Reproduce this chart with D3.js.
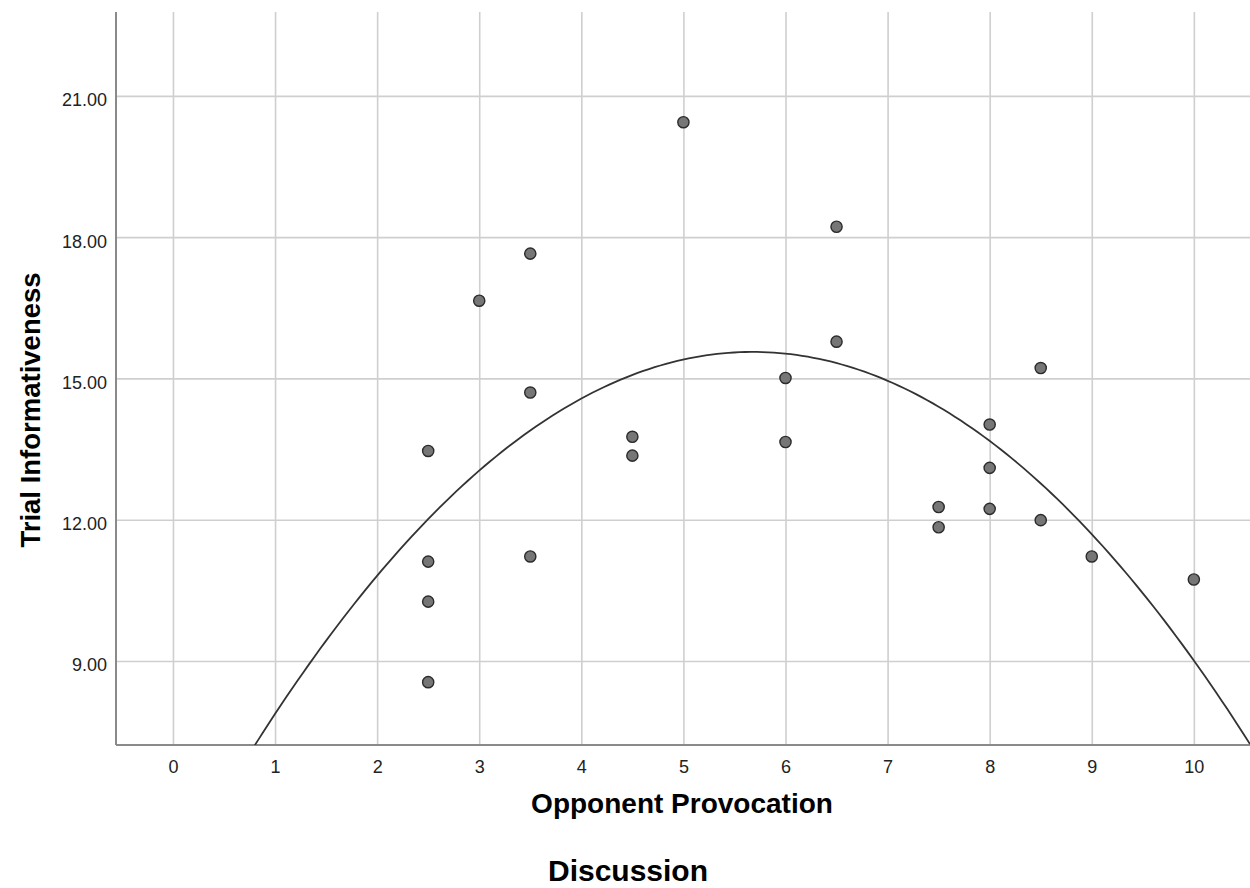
<!DOCTYPE html>
<html>
<head>
<meta charset="utf-8">
<script src="https://cdn.jsdelivr.net/npm/d3@7"></script>
<style>
  body { margin: 0; background: #fff; }
  svg { display: block; font-family: "Liberation Sans", Arial, sans-serif; }
  .grid line { stroke: #cfcfcf; stroke-width: 1.6; }
  .grid path { display: none; }
  .tick text { fill: #222; font-size: 18px; }
</style>
</head>
<body>
<script>
// Opponent provocation (x) and trial informativeness (y)
var provocation = [2.5, 2.5, 2.5, 2.5, 3, 3.5, 3.5, 3.5, 4.5, 4.5, 5, 6, 6,
  6.5, 6.5, 7.5, 7.5, 8, 8, 8, 8.5, 8.5, 9, 10];
var informativeness = [13.46, 11.11, 10.26, 8.55, 16.65, 17.65, 14.70, 11.22,
  13.76, 13.36, 20.44, 15.01, 13.65, 18.22, 15.78, 12.27, 11.84, 14.02, 13.10,
  12.23, 15.22, 11.99, 11.22, 10.73];

// quadratic fit line as drawn: b0 + b1*x + b2*x^2
var fitCoef = [4.24, 3.987, -0.351];

var xTicks = [0, 1, 2, 3, 4, 5, 6, 7, 8, 9, 10];
var yTicks = [9, 12, 15, 18, 21];

var svgWidth = 1250;
var svgHeight = 888;

var plot = { left: 116, right: 1250, top: 12, bottom: 745 };

var svg = d3.select("body")
  .append("svg")
  .attr("width", svgWidth)
  .attr("height", svgHeight);

var xScale = d3.scaleLinear()
  .domain([-0.558, 10.55])
  .range([plot.left, plot.right]);

var yScale = d3.scaleLinear()
  .domain([7.216, 22.78])
  .range([plot.bottom, plot.top]);

// vertical grid lines + x tick labels
var xAxis = d3.axisBottom(xScale)
  .tickValues(xTicks)
  .tickFormat(d3.format("d"))
  .tickSize(-(plot.bottom - plot.top))
  .tickPadding(0);

var gx = svg.append("g")
  .attr("class", "grid")
  .attr("transform", `translate(0, ${plot.bottom})`)
  .call(xAxis);
gx.selectAll(".tick text").attr("y", 28).attr("dy", 0);

// horizontal grid lines + y tick labels
var yAxis = d3.axisLeft(yScale)
  .tickValues(yTicks)
  .tickFormat(d3.format(".2f"))
  .tickSize(-(plot.right - plot.left))
  .tickPadding(9);

var gy = svg.append("g")
  .attr("class", "grid")
  .attr("transform", `translate(${plot.left}, 0)`)
  .call(yAxis);
gy.selectAll(".tick text").attr("dy", 0).attr("y", 10);

// axis lines
svg.append("line")
  .attr("x1", plot.left).attr("x2", plot.left)
  .attr("y1", plot.top).attr("y2", plot.bottom)
  .attr("stroke", "#8a8a8a").attr("stroke-width", 2);
svg.append("line")
  .attr("x1", plot.left).attr("x2", plot.right)
  .attr("y1", plot.bottom).attr("y2", plot.bottom)
  .attr("stroke", "#8a8a8a").attr("stroke-width", 2);

// clip for the fit curve
svg.append("clipPath").attr("id", "plotClip")
  .append("rect")
  .attr("x", plot.left).attr("y", plot.top)
  .attr("width", plot.right - plot.left)
  .attr("height", plot.bottom - plot.top);

var xs = d3.range(0, 201).map(i => -0.558 + i * (10.55 + 0.558) / 200);
var fit = x => fitCoef[0] + fitCoef[1] * x + fitCoef[2] * x * x;

var line = d3.line()
  .x(d => xScale(d))
  .y(d => yScale(fit(d)));

svg.append("path")
  .datum(xs)
  .attr("clip-path", "url(#plotClip)")
  .attr("d", line)
  .attr("fill", "none")
  .attr("stroke", "#333")
  .attr("stroke-width", 1.8);

// scatter points
svg.selectAll("circle.pt")
  .data(provocation)
  .enter()
  .append("circle")
  .attr("class", "pt")
  .attr("cx", d => xScale(d))
  .attr("cy", (d, i) => yScale(informativeness[i]))
  .attr("r", 5.6)
  .attr("fill", "#767676")
  .attr("stroke", "#2b2b2b")
  .attr("stroke-width", 1.4);

// axis titles
svg.append("text")
  .attr("x", 682)
  .attr("y", 813)
  .attr("text-anchor", "middle")
  .attr("font-size", "28px")
  .attr("font-weight", "bold")
  .attr("fill", "#000")
  .text("Opponent Provocation");

svg.append("text")
  .attr("transform", "translate(40, 410) rotate(-90)")
  .attr("text-anchor", "middle")
  .attr("font-size", "27.5px")
  .attr("font-weight", "bold")
  .attr("fill", "#000")
  .text("Trial Informativeness");

svg.append("text")
  .attr("x", 628)
  .attr("y", 881)
  .attr("text-anchor", "middle")
  .attr("font-size", "30px")
  .attr("font-weight", "bold")
  .attr("fill", "#000")
  .text("Discussion");
</script>
</body>
</html>
